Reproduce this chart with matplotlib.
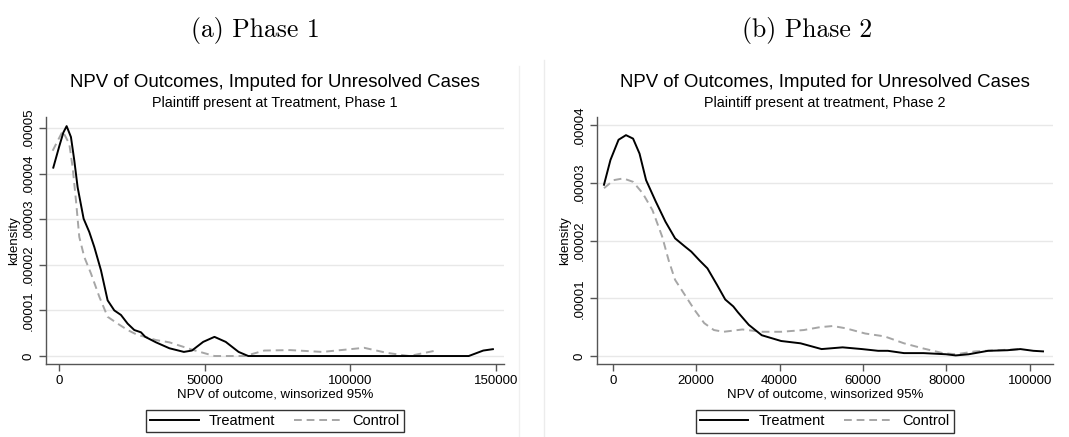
import numpy as np
import matplotlib.pyplot as plt
from matplotlib.lines import Line2D

plt.rcParams['font.family'] = ['Liberation Sans', 'DejaVu Sans']

# phase 1 kernel density curves (x = NPV, y = density)
p1_treat_x = [-2060, 0, 1400, 2520, 4010, 5150, 6300, 8360, 10300, 12030, 14320, 16610,
              18900, 21190, 23480, 25770, 28060, 29540, 33220, 37830, 42810, 45580,
              49450, 53320, 57190, 61620, 64930, 80000, 100000, 120000, 140700, 145690, 149000]
p1_treat_y = [4.13, 4.6, 4.9, 5.04, 4.80, 4.29, 3.70, 3.01, 2.72, 2.39, 1.88, 1.22,
              1.0, 0.90, 0.71, 0.57, 0.52, 0.42, 0.30, 0.17, 0.09, 0.12,
              0.31, 0.42, 0.31, 0.09, 0.0, 0.0, 0.0, 0.0, 0.0, 0.12, 0.15]

p1_ctrl_x = [-2290, 1150, 3440, 4580, 5730, 6870, 8590, 10880, 13750, 16610, 20050,
             23480, 26920, 29540, 33220, 37830, 46130, 53320, 63830, 70460, 79310,
             90370, 104760, 112500, 120240, 130200]
p1_ctrl_y = [4.50, 4.93, 4.65, 4.14, 3.41, 2.61, 2.17, 1.81, 1.30, 0.86, 0.71,
             0.57, 0.46, 0.42, 0.35, 0.30, 0.13, 0.0, 0.0, 0.12, 0.13,
             0.09, 0.18, 0.07, 0.0, 0.13]

# phase 2 kernel density curves
p2_treat_x = [-2090, -540, 1400, 3180, 4880, 6430, 8000, 10310, 12640, 14960, 17290,
              18840, 20780, 22710, 25040, 26980, 28910, 30000, 32630, 35740, 40390,
              45040, 50080, 55120, 59770, 63640, 65970, 69840, 74500, 79920, 82250,
              85350, 90000, 94650, 97750, 100850, 103180]
p2_treat_y = [2.97, 3.40, 3.75, 3.83, 3.77, 3.51, 3.05, 2.68, 2.33, 2.04, 1.90,
              1.81, 1.66, 1.52, 1.23, 0.98, 0.86, 0.76, 0.54, 0.36, 0.26,
              0.22, 0.12, 0.15, 0.12, 0.09, 0.09, 0.05, 0.05, 0.03, 0.01,
              0.03, 0.09, 0.10, 0.12, 0.09, 0.08]

p2_ctrl_x = [-2090, 230, 2560, 4880, 7210, 9530, 11860, 13410, 14960, 17290, 19610,
             21940, 24260, 26590, 28910, 31080, 35740, 40390, 45810, 49690, 52790,
             55890, 60540, 65190, 69840, 74500, 79150, 82250, 86900, 92330, 97750]
p2_ctrl_y = [2.91, 3.05, 3.08, 3.02, 2.82, 2.53, 2.07, 1.66, 1.32, 1.06, 0.80,
             0.57, 0.45, 0.42, 0.44, 0.46, 0.42, 0.42, 0.45, 0.50, 0.52,
             0.48, 0.39, 0.34, 0.22, 0.13, 0.05, 0.03, 0.08, 0.10, 0.12]

p1_xticks = [0, 50000, 100000, 150000]
p2_xticks = [0, 20000, 40000, 60000, 80000, 100000]
p1_yticks = [0, 1, 2, 3, 4, 5]
p2_yticks = [0, 1, 2, 3, 4]

title = 'NPV of Outcomes, Imputed for Unresolved Cases'
xlabel = 'NPV of outcome, winsorized 95%'

W, H = 1069, 437
fig = plt.figure(figsize=(W / 100, H / 100), dpi=100)


def ylab(v):
    return '0' if v == 0 else '.{:05d}'.format(v)


def panel(rect, tx, ty, cx, cy, xticks, yticks, xlim, ylim, subtitle):
    ax = fig.add_axes(rect)
    scale = 1e-5
    ax.plot(cx, np.array(cy) * scale, color='#a6a6a6', lw=1.4, ls=(0, (4, 2.5)), label='Control')
    ax.plot(tx, np.array(ty) * scale, color='black', lw=1.4, label='Treatment')
    ax.set_xlim(xlim)
    ax.set_ylim(ylim[0] * scale, ylim[1] * scale)
    ax.set_xticks(xticks)
    ax.set_xticklabels([str(v) for v in xticks], fontsize=9.5)
    ax.set_yticks([v * scale for v in yticks])
    ax.set_yticklabels([ylab(v) for v in yticks], fontsize=9.5, rotation=90, va='center')
    ax.grid(axis='y', color='#e8e8e8', lw=1)
    ax.set_axisbelow(True)
    for s in ['top', 'right']:
        ax.spines[s].set_visible(False)
    for s in ['left', 'bottom']:
        ax.spines[s].set_color('#555555')
        ax.spines[s].set_linewidth(1)
    ax.tick_params(direction='out', length=5, width=1, color='#555555', pad=3)
    ax.set_xlabel(xlabel, fontsize=9.5, labelpad=1)
    ax.set_ylabel('kdensity', fontsize=9.5, labelpad=2)
    ax.text(0.5, 1.14, title, transform=ax.transAxes, ha='center', va='center', fontsize=13.4)
    ax.text(0.5, 1.055, subtitle, transform=ax.transAxes, ha='center', va='center', fontsize=10.4)
    h, l = ax.get_legend_handles_labels()
    leg = ax.legend(h[::-1], l[::-1], loc='upper center', bbox_to_anchor=(0.5, -0.155), ncol=2,
                    fontsize=10.5, frameon=True, fancybox=False, handlelength=3.3,
                    columnspacing=1.3, borderpad=0.3, handletextpad=0.7)
    leg.get_frame().set_edgecolor('black')
    leg.get_frame().set_linewidth(1)
    return ax


panel([45.7 / W, 1 - 364 / H, 458.6 / W, 247 / H],
      p1_treat_x, p1_treat_y, p1_ctrl_x, p1_ctrl_y, p1_xticks, p1_yticks,
      (-4670, 152920), (-0.175, 5.24), 'Plaintiff present at Treatment, Phase 1')
panel([596.7 / W, 1 - 364.3 / H, 456 / W, 247.6 / H],
      p2_treat_x, p2_treat_y, p2_ctrl_x, p2_ctrl_y, p2_xticks, p2_yticks,
      (-3840, 105500), (-0.144, 4.15), 'Plaintiff present at treatment, Phase 2')

fig.text(255 / W, 1 - 31 / H, '(a) Phase 1', family='cmr10', fontsize=18.5, ha='center', va='center')
fig.text(807 / W, 1 - 31 / H, '(b) Phase 2', family='cmr10', fontsize=18.5, ha='center', va='center')

# faint edges of the two sub-images
fig.add_artist(Line2D([518.5 / W, 518.5 / W], [0, 1 - 66 / H], color='#f0f0f0', lw=1))
fig.add_artist(Line2D([544 / W, 544 / W], [0, 1 - 60 / H], color='#ececec', lw=1))

fig.savefig('out.png', dpi=100)
